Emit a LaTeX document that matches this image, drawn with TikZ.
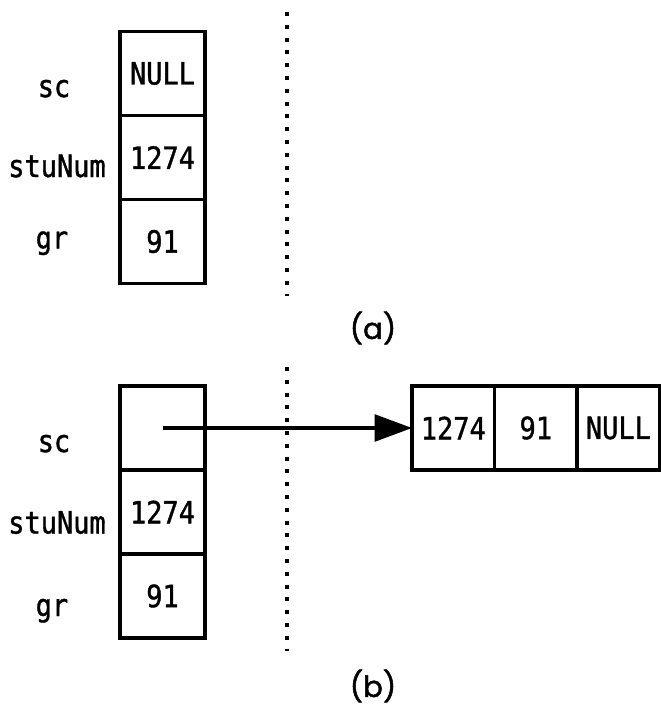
\documentclass[tikz,border=0pt]{standalone}
\usepackage{fontspec}
\setmonofont{DejaVu Sans Mono}[FakeStretch=0.88, FakeBold=1.2]
\newfontfamily\capfont{Poppins}[FakeBold=1.5]
\usepackage{tikz}
\usetikzlibrary{arrows.meta, positioning, calc}

\begin{document}
\begin{tikzpicture}[
	x=0.75pt, y=-0.75pt,
	cell/.style={rectangle, draw=black, line width=2.6pt, outer sep=0pt, minimum width=63.75pt, minimum height=63pt, inner sep=0pt, font=\ttfamily\fontsize{23}{27}\selectfont},
	lcell/.style={cell, minimum width=61.9pt},
	lbl/.style={anchor=base, font=\ttfamily\fontsize{23}{27}\selectfont},
	caption/.style={font=\capfont\fontsize{22}{26}\selectfont},
	divider/.style={line width=3pt, dash pattern=on 3pt off 6.6pt},
	ptr/.style={line width=2.6pt, -{Triangle[length=28pt, width=20pt]}}
]
\useasboundingbox (0,0) rectangle (661,708);

% (a) struct with NULL pointer
\node[cell] (scA) at (162.5,73.5) {NULL};
\node[cell] (numA) [below=0pt of scA] {1274};
\node[cell] (grA) [below=0pt of numA] {91};

\node[lbl] (lblScA) at ($(scA)+(-108.5,23.5)$) {sc};
\node[lbl] (lblNumA) at ($(numA)+(-105.5,19.5)$) {stuNum};
\node[lbl] (lblGrA) at ($(grA)+(-110.5,7)$) {gr};

\coordinate (divTopA) at (287,12);
\coordinate (divBotA) at (287,296);
\draw[divider] (divTopA) -- (divBotA);

\node[caption] (capA) at (373,328) {(a)};

% (b) struct pointing to a list node
\node[cell] (scB) at (162.5,428) {};
\node[cell] (numB) [below=0pt of scB] {1274};
\node[cell] (grB) [below=0pt of numB] {91};

\node[lbl] (lblScB) at ($(scB)+(-108.5,24)$) {sc};
\node[lbl] (lblNumB) at ($(numB)+(-105.5,21.5)$) {stuNum};
\node[lbl] (lblGrB) at ($(grB)+(-110.5,20)$) {gr};

\coordinate (divTopB) at (287,367);
\coordinate (divBotB) at (287,651);
\draw[divider] (divTopB) -- (divBotB);

\node[lcell] (lnNum) at (453.3,428) {1274};
\node[lcell] (lnGr) [right=0pt of lnNum] {91};
\node[lcell] (lnNull) [right=0pt of lnGr] {NULL};

% Pointer
\draw[ptr] (scB.center) -- (lnNum.west);

\node[caption] (capB) at (373,686) {(b)};

\end{tikzpicture}
\end{document}
